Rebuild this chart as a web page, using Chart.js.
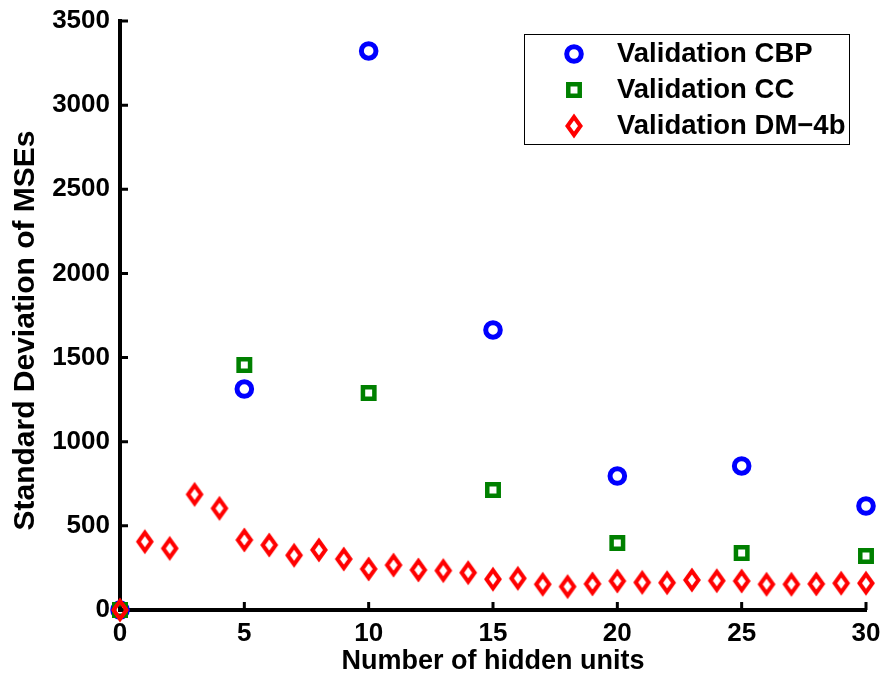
<!DOCTYPE html>
<html>
<head>
<meta charset="utf-8">
<title>Standard Deviation of MSEs</title>
<script src="https://cdn.jsdelivr.net/npm/chart.js@4.4.0/dist/chart.umd.min.js"></script>
<style>
  html, body { margin: 0; padding: 0; background: #fff; }
  canvas { display: block; }
</style>
</head>
<body>
<canvas id="mse" width="885" height="681"></canvas>
<script>
// std deviation of validation MSE vs. number of hidden units
var cbpUnits = [0, 5, 10, 15, 20, 25, 30];
var cbpStd   = [0, 1313, 3322, 1664, 796, 856, 618];

var ccUnits = [0, 5, 10, 15, 20, 25, 30];
var ccStd   = [0, 1456, 1289, 713, 398, 339, 321];

var dmUnits = [0, 1, 2, 3, 4, 5, 6, 7, 8, 9, 10, 11, 12, 13, 14, 15,
               16, 17, 18, 19, 20, 21, 22, 23, 24, 25, 26, 27, 28, 29, 30];
var dmStd   = [0, 406, 366, 687, 604, 416, 386, 325, 357, 303, 244, 267, 238, 234, 222, 183,
               188, 153, 139, 155, 172, 164, 162, 178, 174, 172, 153, 153, 155, 159, 159];

var xTicks = [0, 5, 10, 15, 20, 25, 30];
var yTicks = [0, 500, 1000, 1500, 2000, 2500, 3000, 3500];

var seriesNames = ['Validation CBP', 'Validation CC', 'Validation DM\u22124b'];
var yTitle = 'Standard Deviation of MSEs';

var FONT = 'Arial, "Liberation Sans", Helvetica, sans-serif';

function toPoints(xs, ys) {
  var pts = [];
  for (var i = 0; i < xs.length; i++) pts.push({x: xs[i], y: ys[i]});
  return pts;
}

// matlab-style diamond, a bit taller than wide
function diamondMarker(color) {
  var c = document.createElement('canvas');
  c.width = 24;
  c.height = 30;
  var g = c.getContext('2d');
  g.strokeStyle = color;
  g.lineWidth = 4;
  g.lineJoin = 'miter';
  g.beginPath();
  g.moveTo(12, 6);
  g.lineTo(18.5, 15);
  g.lineTo(12, 24);
  g.lineTo(5.5, 15);
  g.closePath();
  g.stroke();
  return c;
}

var diamond = diamondMarker('#ff0000');

// ticks pointing into the plot, like matlab axes
var innerTicks = {
  id: 'innerTicks',
  beforeDatasetsDraw: function(chart) {
    var ctx = chart.ctx, area = chart.chartArea;
    var xs = chart.scales.x, ys = chart.scales.y;
    ctx.save();
    ctx.strokeStyle = '#000';
    ctx.lineWidth = 3;
    ctx.beginPath();
    xTicks.forEach(function(v) {
      var px = xs.getPixelForValue(v);
      ctx.moveTo(px, area.bottom);
      ctx.lineTo(px, area.bottom - 8);
    });
    yTicks.forEach(function(v) {
      var py = ys.getPixelForValue(v);
      ctx.moveTo(area.left, py);
      ctx.lineTo(area.left + 8, py);
    });
    ctx.stroke();
    ctx.restore();
  }
};

// rotated y label, sitting a little below the axis middle
var yLabel = {
  id: 'yLabel',
  afterDraw: function(chart) {
    var ctx = chart.ctx, area = chart.chartArea;
    ctx.save();
    ctx.translate(26, (area.top + area.bottom) / 2 + 15);
    ctx.rotate(-Math.PI / 2);
    ctx.font = 'bold 30px ' + FONT;
    ctx.fillStyle = '#000';
    ctx.textAlign = 'center';
    ctx.textBaseline = 'middle';
    ctx.fillText(yTitle, 0, 0);
    ctx.restore();
  }
};

// boxed legend in the upper right corner
var boxLegend = {
  id: 'boxLegend',
  afterDraw: function(chart) {
    var ctx = chart.ctx, area = chart.chartArea;
    var right = area.right - 17, top = area.top + 13;
    var w = 325, h = 110;
    ctx.save();
    ctx.fillStyle = '#fff';
    ctx.fillRect(right - w, top, w, h);
    ctx.strokeStyle = '#000';
    ctx.lineWidth = 1;
    ctx.strokeRect(right - w + 0.5, top + 0.5, w, h);

    ctx.font = 'bold 27.5px ' + FONT;
    ctx.textBaseline = 'middle';
    ctx.textAlign = 'left';
    chart.data.datasets.forEach(function(ds, i) {
      var cy = top + 20 + 36 * i;
      var mx = right - w + 50;
      ctx.strokeStyle = ds.borderColor;
      ctx.fillStyle = 'rgba(0,0,0,0)';
      ctx.lineWidth = ds.borderWidth;
      Chart.helpers.drawPoint(ctx, {
        pointStyle: ds.pointStyle,
        radius: ds.pointRadius,
        borderWidth: ds.borderWidth,
        rotation: 0
      }, mx, cy);
      ctx.fillStyle = '#000';
      ctx.fillText(ds.label, right - w + 93, cy);
    });
    ctx.restore();
  }
};

function plainTick(v) { return String(v); }

new Chart(document.getElementById('mse'), {
  type: 'scatter',
  data: {
    datasets: [
      {
        label: seriesNames[0],
        data: toPoints(cbpUnits, cbpStd),
        pointStyle: 'circle',
        pointRadius: 7.3,
        borderWidth: 5,
        borderColor: '#0000ff',
        backgroundColor: 'rgba(0,0,0,0)',
        order: 3,
        clip: false
      },
      {
        label: seriesNames[1],
        data: toPoints(ccUnits, ccStd),
        pointStyle: 'rect',
        pointRadius: 8.1,
        borderWidth: 4.5,
        borderColor: '#008000',
        backgroundColor: 'rgba(0,0,0,0)',
        order: 2,
        clip: false
      },
      {
        label: seriesNames[2],
        data: toPoints(dmUnits, dmStd),
        pointStyle: diamond,
        pointRadius: 10,
        borderWidth: 4,
        borderColor: '#ff0000',
        backgroundColor: 'rgba(0,0,0,0)',
        order: 1,
        clip: false
      }
    ]
  },
  options: {
    responsive: false,
    animation: false,
    devicePixelRatio: 1,
    layout: { padding: { top: 21, right: 19, left: 0, bottom: 0 } },
    plugins: {
      legend: { display: false },
      tooltip: { enabled: false }
    },
    elements: { point: { hoverRadius: 8 } },
    scales: {
      x: {
        type: 'linear',
        min: 0,
        max: 30,
        afterBuildTicks: function(s) {
          s.ticks = xTicks.map(function(v) { return {value: v}; });
        },
        afterFit: function(s) {
          s.height = 71;
          s.paddingLeft = 0;
          s.paddingRight = 0;
        },
        grid: { display: false, drawTicks: false },
        border: { display: true, color: '#000', width: 4 },
        ticks: {
          color: '#000',
          padding: 8,
          maxRotation: 0,
          callback: plainTick,
          font: { family: FONT, size: 26, weight: 'bold' }
        },
        title: {
          display: true,
          text: 'Number of hidden units',
          color: '#000',
          padding: { top: 0, bottom: 3 },
          font: { family: FONT, size: 27, weight: 'bold' }
        }
      },
      y: {
        type: 'linear',
        min: 0,
        max: 3500,
        afterBuildTicks: function(s) {
          s.ticks = yTicks.map(function(v) { return {value: v}; });
        },
        afterFit: function(s) {
          s.width = 120;
          s.paddingTop = 0;
          s.paddingBottom = 0;
        },
        grid: { display: false, drawTicks: false },
        border: { display: true, color: '#000', width: 4 },
        ticks: {
          color: '#000',
          padding: 10,
          callback: plainTick,
          font: { family: FONT, size: 26, weight: 'bold' }
        },
        title: { display: false }
      }
    }
  },
  plugins: [innerTicks, yLabel, boxLegend]
});
</script>
</body>
</html>
